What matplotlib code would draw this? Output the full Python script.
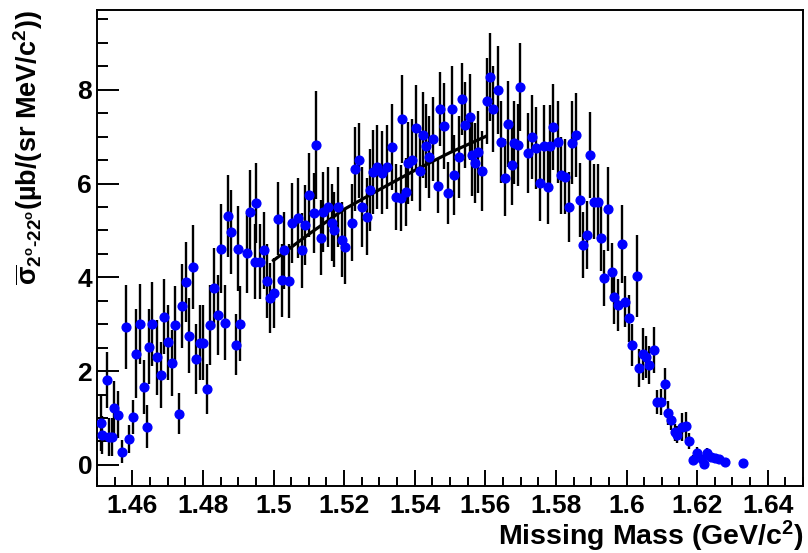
import matplotlib
matplotlib.use("Agg")
import matplotlib.pyplot as plt
from matplotlib.ticker import MultipleLocator, FixedLocator, FixedFormatter

plt.rcParams['font.family'] = ['Liberation Sans', 'DejaVu Sans']
plt.rcParams['font.weight'] = 'bold'
plt.rcParams['mathtext.fontset'] = 'custom'
plt.rcParams['mathtext.rm'] = 'Liberation Sans:bold'
plt.rcParams['mathtext.it'] = 'Liberation Sans:italic:bold'
plt.rcParams['mathtext.bf'] = 'Liberation Sans:bold'
plt.rcParams['mathtext.default'] = 'regular'

# Missing mass (GeV/c^2)
mass = [
    1.4511, 1.4514, 1.4528, 1.4533, 1.4542, 1.4548, 1.4559, 1.4571, 1.4582, 1.4591,
    1.4602, 1.4610, 1.4622, 1.4633, 1.4642, 1.4647, 1.4656, 1.4670, 1.4681, 1.4690,
    1.4701, 1.4712, 1.4721, 1.4732, 1.4741, 1.4752, 1.4761, 1.4772, 1.4780, 1.4792,
    1.4800, 1.4812, 1.4820, 1.4831, 1.4843, 1.4851, 1.4863, 1.4871, 1.4880, 1.4894,
    1.4899, 1.4905,
    1.4925, 1.4933, 1.4950, 1.4948, 1.4962, 1.4973, 1.4982, 1.4990, 1.5001, 1.5013,
    1.5024, 1.5030, 1.5044, 1.5052, 1.5069, 1.5081, 1.5089, 1.5101, 1.5115, 1.5120,
    1.5135, 1.5140, 1.5154, 1.5166, 1.5171, 1.5183, 1.5194, 1.5203, 1.5222, 1.5231,
    1.5242, 1.5251, 1.5265, 1.5273, 1.5282, 1.5293,
    1.5307, 1.5322, 1.5336, 1.5347, 1.5361, 1.5364, 1.5375, 1.5381, 1.5392, 1.5404,
    1.5415, 1.5424, 1.5432, 1.5441, 1.5452, 1.5466, 1.5472, 1.5483, 1.5494, 1.5506,
    1.5511, 1.5525, 1.5534, 1.5542, 1.5557, 1.5562, 1.5571, 1.5579, 1.5591, 1.5605,
    1.5613, 1.5622, 1.5636, 1.5644, 1.5656, 1.5664, 1.5676, 1.5681, 1.5698,
    1.5693, 1.5721, 1.5732, 1.5744, 1.5755, 1.5766, 1.5778, 1.5783, 1.5792, 1.5806,
    1.5814, 1.5826, 1.5837, 1.5846, 1.5857, 1.5868, 1.5877, 1.5888, 1.5897, 1.5908,
    1.5919, 1.5928, 1.5936, 1.5948, 1.5959, 1.5965, 1.5976, 1.5987, 1.5996, 1.6007,
    1.6016, 1.6030,
    1.6035, 1.6047, 1.6055, 1.6064, 1.6078, 1.6086, 1.6098, 1.6109, 1.6118, 1.6126,
    1.6137, 1.6143, 1.6157, 1.6169, 1.6177, 1.6188, 1.6200, 1.6214, 1.6220, 1.6228,
    1.6239, 1.6251, 1.6262, 1.6279, 1.6330,
]

# Averaged cross section, 2-22 deg (ub/(sr MeV/c^2))
xsec = [
    0.90, 0.64, 1.81, 0.60, 0.60, 1.22, 1.07, 0.28, 2.94, 0.55,
    1.02, 2.37, 3.01, 1.66, 0.81, 2.52, 3.01, 2.30, 1.92, 3.16,
    2.62, 2.17, 2.99, 1.09, 3.39, 3.90, 2.75, 4.22, 2.26, 2.60,
    2.60, 1.62, 2.99, 3.77, 3.20, 4.61, 3.03, 5.31, 4.97, 2.56,
    4.61, 3.01,
    4.52, 5.39, 5.59, 4.33, 4.33, 4.58, 3.92, 3.56, 3.67, 5.25,
    3.94, 4.58, 3.92, 5.16, 5.27, 4.58, 5.12, 5.76, 5.37, 6.82,
    4.84, 5.39, 5.50, 5.16, 5.01, 5.50, 4.80, 4.65, 5.16, 6.31,
    6.50, 5.50, 5.29, 5.86, 6.25, 6.35,
    6.23, 6.35, 6.78, 5.71, 5.69, 7.38, 5.82, 6.44, 6.50, 7.19,
    6.27, 7.04, 6.80, 6.57, 6.95, 5.95, 7.59, 7.23, 5.80, 7.59,
    6.18, 6.57, 7.80, 7.25, 7.42, 6.61, 6.44, 6.67, 6.27, 7.76,
    8.27, 7.59, 8.00, 6.89, 6.12, 7.27, 6.40, 6.87, 8.06,
    6.82, 6.65, 6.99, 6.76, 6.01, 6.80, 5.93, 6.80, 7.21, 6.89,
    6.18, 6.14, 5.50, 6.87, 7.04, 5.65, 4.69, 4.90, 6.61, 5.61,
    5.61, 4.84, 3.99, 5.46, 4.12, 3.58, 3.41, 4.71, 3.48, 3.13,
    2.56, 4.03,
    2.07, 2.37, 2.30, 2.13, 2.45, 1.34, 1.34, 1.73, 1.11, 0.96,
    0.70, 0.64, 0.81, 0.83, 0.51, 0.11, 0.26, 0.13, 0.02, 0.26,
    0.17, 0.15, 0.13, 0.06, 0.04,
]

# Statistical uncertainties
xsec_err = [
    0.60, 0.40, 0.59, 0.40, 0.40, 0.57, 0.50, 0.25, 0.90, 0.30,
    0.36, 0.95, 0.85, 0.57, 0.46, 0.80, 0.90, 0.80, 0.70, 0.80,
    0.80, 0.70, 0.82, 0.44, 0.90, 0.85, 0.80, 0.90, 0.75, 0.80,
    0.80, 0.53, 0.85, 0.85, 0.85, 0.95, 0.80, 0.87, 0.90, 0.65,
    0.90, 0.80,
    0.85, 0.90, 0.85, 0.80, 0.80, 0.82, 0.78, 0.75, 0.75, 0.78,
    0.78, 0.82, 0.78, 0.85, 0.85, 0.80, 0.85, 0.90, 0.85, 1.15,
    0.80, 0.85, 0.85, 0.82, 0.80, 0.85, 0.80, 0.80, 0.82, 0.90,
    0.80, 0.85, 0.82, 0.88, 0.90, 0.90,
    0.88, 0.90, 0.92, 0.70, 0.70, 0.94, 0.72, 0.88, 0.88, 0.92,
    0.85, 0.92, 0.90, 0.88, 0.90, 0.58, 0.79, 0.92, 0.66, 0.92,
    0.85, 0.88, 0.77, 0.92, 0.92, 0.88, 0.85, 0.88, 0.85, 0.92,
    0.94, 0.92, 0.94, 0.88, 0.82, 0.92, 0.85, 0.88, 0.94,
    0.88, 0.85, 0.90, 0.88, 0.80, 0.88, 0.80, 0.88, 0.92, 0.88,
    0.82, 0.80, 0.75, 0.88, 0.90, 0.78, 0.70, 0.72, 0.92, 0.80,
    0.80, 0.70, 0.60, 0.90, 0.62, 0.58, 0.55, 0.83, 0.55, 0.50,
    0.45, 0.87,
    0.40, 0.55, 0.45, 0.40, 0.50, 0.26, 0.28, 0.34, 0.25, 0.22,
    0.18, 0.18, 0.30, 0.30, 0.18, 0.10, 0.12, 0.08, 0.06, 0.10,
    0.08, 0.07, 0.06, 0.05, 0.04,
]

# Fitted curve over 1.50-1.56 GeV/c^2
fit_mass = [1.500, 1.510, 1.520, 1.530, 1.540, 1.550, 1.560]
fit_xsec = [4.36, 4.92, 5.45, 5.87, 6.28, 6.66, 7.00]

x_ticks = [1.46, 1.48, 1.50, 1.52, 1.54, 1.56, 1.58, 1.60, 1.62, 1.64]
x_tick_labels = ["1.46", "1.48", "1.5", "1.52", "1.54", "1.56", "1.58", "1.6", "1.62", "1.64"]
y_ticks = [0, 2, 4, 6, 8]

fig = plt.figure(figsize=(8.08, 5.53), dpi=100)
ax = fig.add_axes([97 / 808, 67 / 553, 706 / 808, 476 / 553])

ax.errorbar(mass, xsec, yerr=xsec_err, fmt='none', ecolor='black',
            elinewidth=1.7, capsize=0, zorder=2)
ax.plot(fit_mass, fit_xsec, color='black', lw=2.3, zorder=3)
ax.plot(mass, xsec, 'o', color='#0000ff', ms=6.3, mec='#0000ff', zorder=4)

ax.set_xlim(1.45, 1.65)
ax.set_ylim(-0.45, 9.7)

ax.xaxis.set_major_locator(FixedLocator(x_ticks))
ax.xaxis.set_major_formatter(FixedFormatter(x_tick_labels))
ax.xaxis.set_minor_locator(MultipleLocator(0.005))
ax.yaxis.set_major_locator(FixedLocator(y_ticks))
ax.yaxis.set_minor_locator(MultipleLocator(0.5))

ax.tick_params(axis='both', which='both', direction='in', top=False, right=False,
               width=1.4, colors='black', labelsize=19)
ax.tick_params(axis='x', which='major', length=11.5, pad=6.0)
ax.tick_params(axis='x', which='minor', length=6.5)
ax.tick_params(axis='y', which='major', length=15.8, pad=3.5)
ax.tick_params(axis='y', which='minor', length=8)

for sp in ax.spines.values():
    sp.set_linewidth(1.4)
    sp.set_color('black')

ax.set_xlabel("Missing Mass (GeV/c$^2$)", fontsize=20.5, fontweight='bold', loc='right')
ax.xaxis.set_label_coords(1.001, -0.068)
ax.set_ylabel(r"$\overline{\sigma}_{2^{o}\text{-}22^{o}}$(µb/(sr MeV/c$^2$))",
              fontsize=19.5, fontweight='bold', loc='top')
ax.yaxis.set_label_coords(-0.074, 1.0)

fig.savefig("out.png", dpi=100, facecolor='white')
